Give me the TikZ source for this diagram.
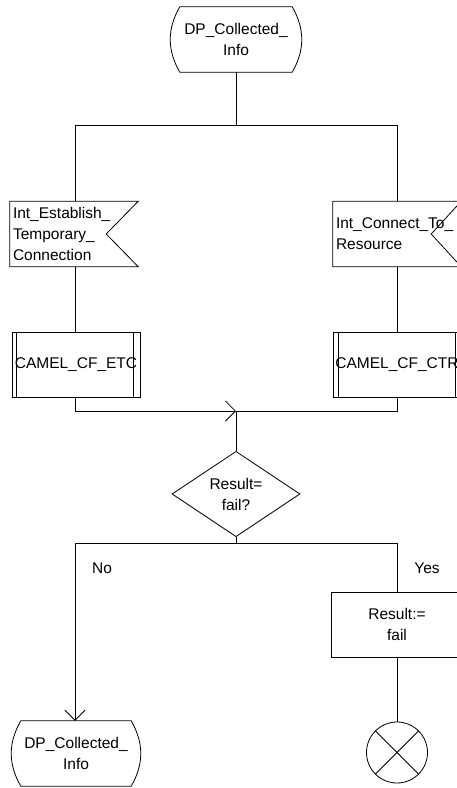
\documentclass[tikz,border=0pt]{standalone}
\usepackage{fontspec}
\setmainfont{Liberation Sans}
\usetikzlibrary{shapes.geometric,arrows.meta,calc}
\begin{document}
\begin{tikzpicture}[x=1pt,y=1pt,
  every node/.style={font=\fontsize{15.5}{21}\selectfont},
  line/.style={draw=black,line width=0.8pt},
  term/.style={draw=none,minimum width=126pt,minimum height=65pt,inner sep=0pt,align=center},
  sig/.style={draw=none,minimum width=128pt,minimum height=65pt,inner sep=3pt,align=left,text width=122pt},
  proc/.style={draw,line width=0.8pt,minimum width=128pt,minimum height=65pt,inner sep=0pt,align=center},
  task/.style={draw,line width=0.8pt,minimum width=132pt,minimum height=65pt,inner sep=0pt,align=center},
  dec/.style={draw,line width=0.8pt,diamond,minimum width=128pt,minimum height=64pt,inner sep=0pt,align=center},
  lbl/.style={inner sep=0pt},
  tip/.style={-{Straight Barb[length=10pt,width=20pt,line width=0.8pt]}}
]
\useasboundingbox (0,0) rectangle (457,-788);
\begin{scope}
\clip (0,0) rectangle (457,-788);
% start terminal
\node[term] (start) at (236,-39.5) {DP\_Collected\_\\Info};
\draw[line] ([xshift=7pt]start.north west) -- ([xshift=-7pt]start.north east)
  to[out=-60,in=60] ([xshift=-7pt]start.south east) -- ([xshift=7pt]start.south west)
  to[out=120,in=-120] ([xshift=7pt]start.north west);
% split
\coordinate (split) at (236,-125);
\coordinate (splitL) at (75,-125);
\coordinate (splitR) at (397,-125);
% signals
\node[sig] (sigL) at (74,-234) {Int\_Establish\_\\Temporary\_\\Connection};
\draw[line] (sigL.north west) -- (sigL.north east) -- ([xshift=-32pt]sigL.east) -- (sigL.south east) -- (sigL.south west) -- cycle;
\node[sig] (sigR) at (397,-234) {Int\_Connect\_To\_\\Resource};
\draw[line] (sigR.north west) -- (sigR.north east) -- ([xshift=-30pt]sigR.east) -- (sigR.south east) -- (sigR.south west) -- cycle;
% procedures
\node[proc] (etc) at (76,-364.5) {CAMEL\_CF\_ETC};
\draw[line] ([xshift=5pt]etc.north west) -- ([xshift=5pt]etc.south west);
\draw[line] ([xshift=-7pt]etc.north east) -- ([xshift=-7pt]etc.south east);
\node[proc] (ctr) at (397,-364.5) {CAMEL\_CF\_CTR};
\draw[line] ([xshift=6pt]ctr.north west) -- ([xshift=6pt]ctr.south west);
\draw[line] ([xshift=-6pt]ctr.north east) -- ([xshift=-6pt]ctr.south east);
% join
\coordinate (join) at (236,-411);
% decision
\node[dec] (dec) at (236,-494) {Result=\\fail?};
\coordinate (br) at (236,-543);
% bottom
\node[term] (stop) at (76,-753.5) {DP\_Collected\_\\Info};
\draw[line] ([xshift=8pt]stop.north west) -- ([xshift=-8pt]stop.north east)
  to[out=-60,in=60] ([xshift=-8pt]stop.south east) -- ([xshift=8pt]stop.south west)
  to[out=120,in=-120] ([xshift=8pt]stop.north west);
\node[task] (task) at (397,-624.5) {Result:=\\fail};
\node[draw,circle,line width=0.8pt,minimum size=61pt,inner sep=0pt] (end) at (397,-752.5) {};
\draw[line] (end.north west) -- (end.south east);
\draw[line] (end.north east) -- (end.south west);
% labels
\node[lbl] (no) at (102,-568) {No};
\node[lbl] (yes) at (427,-568) {Yes};
% connectors
\draw[line] (start.south) -- (split);
\draw[line] (splitL) -- (splitR);
\draw[line] (splitL) -- (sigL.north -| splitL);
\draw[line] (splitR) -- (sigR.north);
\draw[line] (sigL.south -| splitL) -- (etc.north -| splitL);
\draw[line] (sigR.south) -- (ctr.north);
\draw[line,tip] (etc.south -| splitL) |- (join);
\draw[line] (ctr.south) |- (join);
\draw[line] (join) -- (dec.north);
\draw[line] (dec.south) -- (br);
\draw[line,tip] (br) -| (stop.north -| splitL);
\draw[line] (br) -| (task.north);
\draw[line] (task.south) -- (end.north);
\end{scope}
\end{tikzpicture}
\end{document}
